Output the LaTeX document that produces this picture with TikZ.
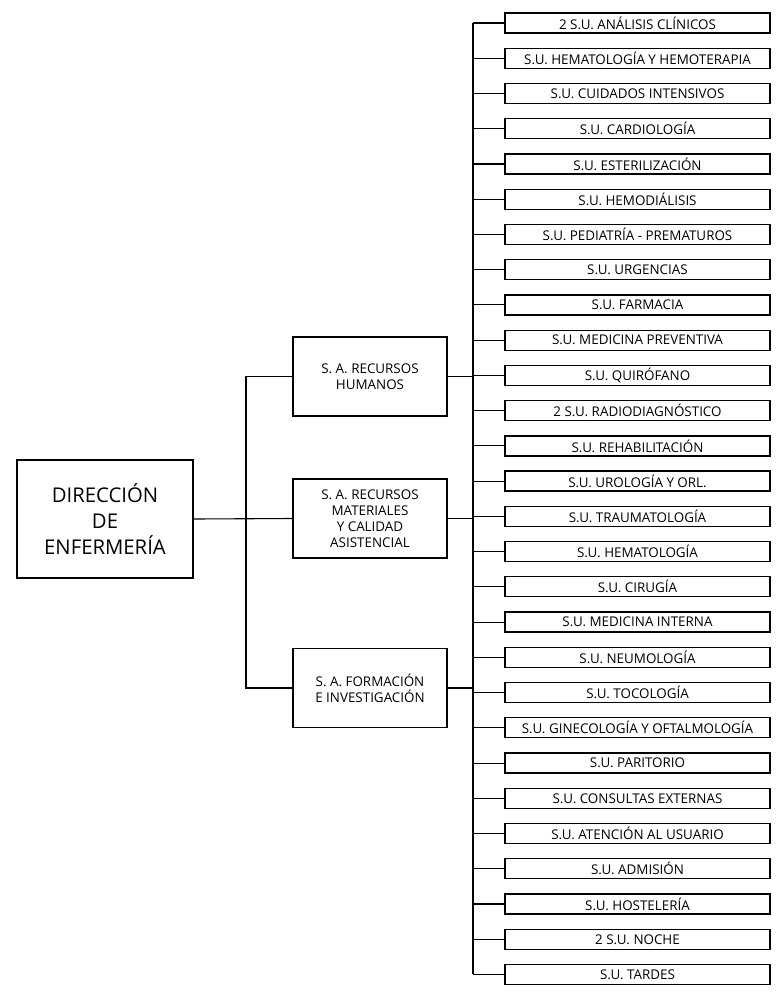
\documentclass[tikz,border=0pt]{standalone}
\usepackage{fontspec}
\setmainfont{Open Sans}
\usepackage{tikz}
\usetikzlibrary{positioning}

\tikzset{
  dirbox/.style={draw, line width=1.2pt, minimum width=176pt, minimum height=118pt,
    align=center, inner sep=0pt, font=\fontsize{20.3}{26}\selectfont},
  sabox/.style={draw, line width=1.2pt, minimum width=154pt, minimum height=79pt,
    align=center, inner sep=0pt, font=\fontsize{13.4}{16}\selectfont},
  subox/.style={draw, line width=1.3pt, minimum width=265pt, minimum height=20pt,
    inner sep=0pt, font=\fontsize{13.4}{15}\selectfont},
  link/.style={line width=1.1pt}
}

\begin{document}
\begin{tikzpicture}[x=1pt, y=-1pt]
        \useasboundingbox (0, 0) rectangle (778, 999);
        % direccion y subdirecciones
        \node[dirbox] (dir) at (105, 519) {DIRECCIÓN\\DE\\ENFERMERÍA};
        \node[sabox] (rh) at (370, 376.5) {S. A. RECURSOS\\HUMANOS};
        \node[sabox] (rm) at (370, 518.5) {S. A. RECURSOS\\MATERIALES\\Y CALIDAD\\ASISTENCIAL};
        \node[sabox] (fi) at (370, 688) {S. A. FORMACIÓN\\E INVESTIGACIÓN};
        \coordinate (junta) at (246, 519);
        \coordinate (eje) at (473, 0);
        \draw[link] (dir.east) -- (rm.west);
        \draw[link] (rh.west) -| (junta) |- (fi.west);
        % supervisiones de unidad
        \foreach \lbl [count=\i] in {2 S.U. ANÁLISIS CLÍNICOS, S.U. HEMATOLOGÍA Y HEMOTERAPIA,
            S.U. CUIDADOS INTENSIVOS, S.U. CARDIOLOGÍA, S.U. ESTERILIZACIÓN, S.U. HEMODIÁLISIS,
            S.U. PEDIATRÍA - PREMATUROS, S.U. URGENCIAS, S.U. FARMACIA, S.U. MEDICINA PREVENTIVA,
            S.U. QUIRÓFANO, 2 S.U. RADIODIAGNÓSTICO, S.U. REHABILITACIÓN, S.U. UROLOGÍA Y ORL.,
            S.U. TRAUMATOLOGÍA, S.U. HEMATOLOGÍA, S.U. CIRUGÍA, S.U. MEDICINA INTERNA,
            S.U. NEUMOLOGÍA, S.U. TOCOLOGÍA, S.U. GINECOLOGÍA Y OFTALMOLOGÍA, S.U. PARITORIO,
            S.U. CONSULTAS EXTERNAS, S.U. ATENCIÓN AL USUARIO, S.U. ADMISIÓN, S.U. HOSTELERÍA,
            2 S.U. NOCHE, S.U. TARDES} {
            \node[subox] (su\i) at (637.5, {23 + 35.24*(\i-1)}) {\lbl};
            \draw[link] (su\i.west) -- (su\i.west -| eje);
        }
        \draw[link] (su1.west -| eje) -- (su28.west -| eje);
        \draw[link] (rh.east) -- (rh.east -| eje);
        \draw[link] (rm.east) -- (rm.east -| eje);
        \draw[link] (fi.east) -- (fi.east -| eje);
    \end{tikzpicture}
\end{document}
